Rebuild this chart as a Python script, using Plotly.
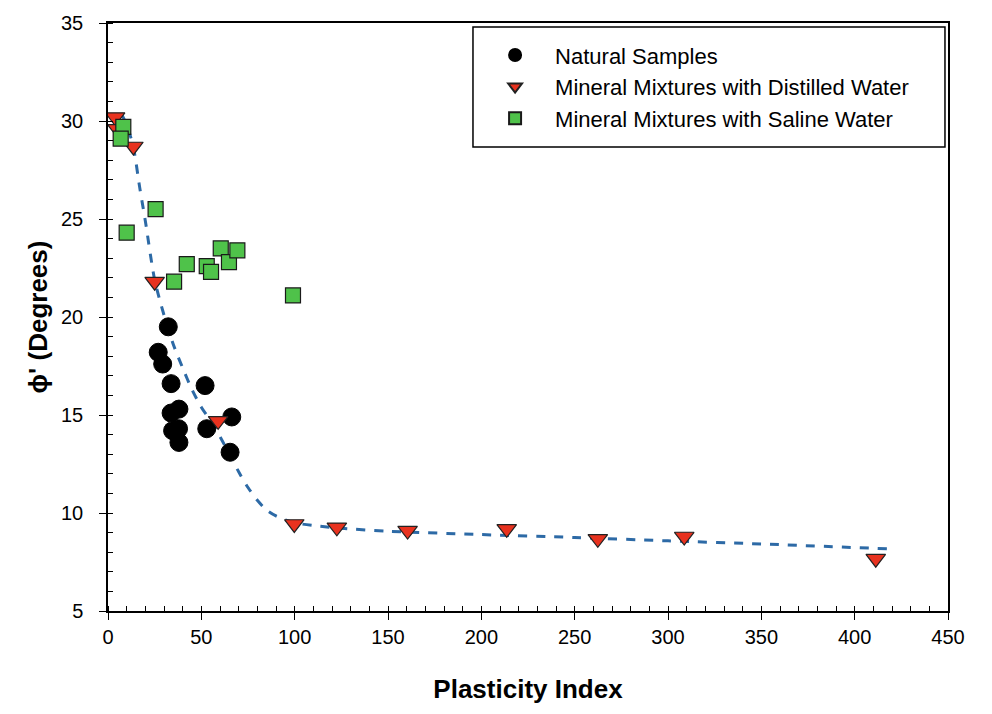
import plotly.graph_objects as go

# Natural samples
nat_x = [32.3, 26.9, 29.3, 33.8, 52.0, 38.0, 33.8, 34.6, 37.8, 38.0, 52.9, 66.3, 65.4]
nat_y = [19.5, 18.2, 17.6, 16.6, 16.5, 15.3, 15.1, 14.2, 14.3, 13.6, 14.3, 14.9, 13.1]

# Mineral mixtures with distilled water
dis_x = [3.8, 5.0, 13.6, 25.0, 59.0, 99.8, 122.6, 160.5, 213.6, 262.4, 308.7, 411.3]
dis_y = [30.2, 29.6, 28.7, 21.8, 14.7, 9.44, 9.27, 9.10, 9.19, 8.68, 8.80, 7.67]

# Mineral mixtures with saline water
sal_x = [8.2, 6.8, 25.5, 10.0, 42.2, 52.9, 55.2, 60.4, 64.8, 69.3, 35.4, 99.1]
sal_y = [29.7, 29.1, 25.5, 24.3, 22.7, 22.6, 22.3, 23.5, 22.8, 23.4, 21.8, 21.1]

# Fitted trend (dashed)
fit_x = [7, 10, 13.5, 17, 20, 25, 30, 35, 40, 45, 50, 55, 60, 65, 70, 75, 80, 85, 90, 95, 100,
         110, 125, 150, 200, 250, 300, 350, 418]
fit_y = [30.4, 29.8, 28.7, 26.6, 24.9, 21.9, 20.1, 18.6, 17.4, 16.3, 15.4, 14.7, 13.9, 13.0, 12.1,
         11.3, 10.65, 10.15, 9.85, 9.65, 9.5, 9.36, 9.22, 9.07, 8.9, 8.75, 8.58, 8.42, 8.17]

x_ticks = [0, 50, 100, 150, 200, 250, 300, 350, 400, 450]
y_ticks = [5, 10, 15, 20, 25, 30, 35]

FONT = "Liberation Sans, Arial, sans-serif"

fig = go.Figure()
fig.add_trace(go.Scatter(x=fit_x, y=fit_y, mode="lines", showlegend=False,
                         line=dict(color="#2d6aa6", width=3, dash="dash", shape="spline", smoothing=0.8)))
fig.add_trace(go.Scatter(x=nat_x, y=nat_y, mode="markers", name="Natural Samples",
                         marker=dict(symbol="circle", size=18, color="black",
                                     line=dict(color="black", width=1))))
fig.add_trace(go.Scatter(x=dis_x, y=dis_y, mode="markers", name="Mineral Mixtures with Distilled Water",
                         marker=dict(symbol="triangle-down", size=17, color="#e8321f",
                                     line=dict(color="#222", width=1.2))))
fig.add_trace(go.Scatter(x=sal_x, y=sal_y, mode="markers", name="Mineral Mixtures with Saline Water",
                         marker=dict(symbol="square", size=15, color="#4fc24a",
                                     line=dict(color="#1a1a1a", width=1.2))))

axis_common = dict(showline=True, linecolor="black", linewidth=1.5, mirror=True,
                   ticks="outside", ticklen=7, tickwidth=1.2, tickcolor="black",
                   showgrid=False, zeroline=False,
                   tickfont=dict(family=FONT, size=20, color="black"))

fig.update_xaxes(range=[0, 450], tickvals=x_ticks,
                 title=dict(text="<b>Plasticity Index</b>", font=dict(family=FONT, size=26, color="black"), standoff=33),
                 minor=dict(ticks="inside", dtick=10, ticklen=5, tickcolor="black", tickwidth=1),
                 **axis_common)
fig.update_yaxes(range=[5, 35], tickvals=y_ticks, ticklabelstandoff=12,
                 title=dict(text="<b>ϕ' (Degrees)</b>", font=dict(family=FONT, size=26, color="black"), standoff=6),
                 minor=dict(ticks="inside", dtick=1, ticklen=5, tickcolor="black", tickwidth=1),
                 **axis_common)

# legend frame
fig.add_shape(type="rect", xref="paper", yref="paper", x0=0.4345, x1=0.9964, y0=0.789, y1=0.9933,
              line=dict(color="black", width=1.5), fillcolor="white", layer="above")

fig.update_layout(
    width=992, height=714,
    margin=dict(l=108, r=44, t=18, b=103),
    plot_bgcolor="white", paper_bgcolor="white",
    font=dict(family=FONT, color="black"),
    legend=dict(x=0.437, y=0.981, xanchor="left", yanchor="top",
                bgcolor="rgba(0,0,0,0)", borderwidth=0,
                font=dict(family=FONT, size=22, color="black"),
                itemwidth=70, itemsizing="constant", tracegroupgap=0),
)

fig.write_html("out.html")
